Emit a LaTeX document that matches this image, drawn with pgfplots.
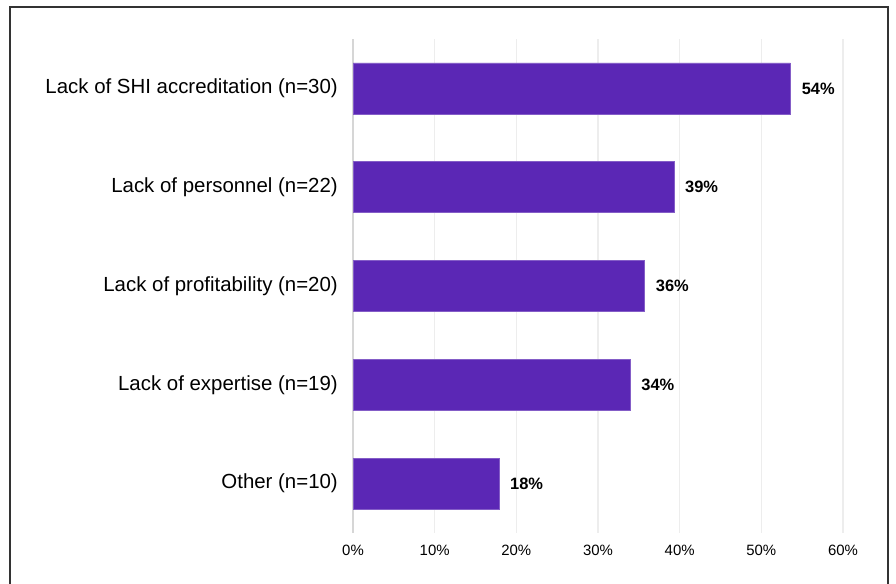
\documentclass[border=0pt]{standalone}
\usepackage{pgfplots}
\pgfplotsset{compat=1.18}
\usepackage{fontspec}
\setmainfont{Liberation Sans}
\definecolor{barc}{HTML}{5B27B5}
\definecolor{gridc}{HTML}{EDEDED}
\definecolor{zeroc}{HTML}{D6D6D6}
\begin{document}
\begin{tikzpicture}
\path[use as bounding box] (0bp,0bp) rectangle (896bp,584bp);
\draw[line width=1.3bp, color=black!80] (10bp,0bp) -- (10bp,577bp) -- (888bp,577bp) -- (888bp,0bp);
\begin{axis}[
  at={(353bp,51bp)}, anchor=south west,
  scale only axis, width=490bp, height=494bp,
  xmin=0, xmax=60, ymin=-0.5, ymax=4.5, y dir=reverse,
  xbar, bar width=51bp,
  ytick={0,1,2,3,4},
  yticklabels={Lack of SHI accreditation (n=30),Lack of personnel (n=22),Lack of profitability (n=20),Lack of expertise (n=19),Other (n=10)},
  xtick={0,10,...,60},
  xticklabel={\pgfmathprintnumber{\tick}\%},
  /pgf/number format/assume math mode=true,
  xmajorgrids, grid style={color=gridc, line width=1.6bp},
  extra x ticks={0}, extra x tick labels={},
  extra x tick style={grid style={color=zeroc, line width=2bp}},
  axis line style={draw=none},
  major tick length=0pt,
  yticklabel style={font=\fontsize{20.5}{24}\selectfont, inner sep=0pt, xshift=-15bp},
  xticklabel style={font=\fontsize{15}{18}\selectfont, inner sep=0pt, yshift=-12bp},
  point meta=x,
  nodes near coords={\pgfmathprintnumber[fixed,precision=0]{\pgfplotspointmeta}\%},
  every node near coord/.append style={font=\fontsize{16.5}{20}\selectfont\bfseries, anchor=west, inner sep=0pt, xshift=11bp, text=black},
]
\addplot[fill=barc, draw=barc!75!white, line width=0.6bp] coordinates {(53.57,0) (39.29,1) (35.71,2) (33.93,3) (17.86,4)};
\end{axis}
\end{tikzpicture}
\end{document}
